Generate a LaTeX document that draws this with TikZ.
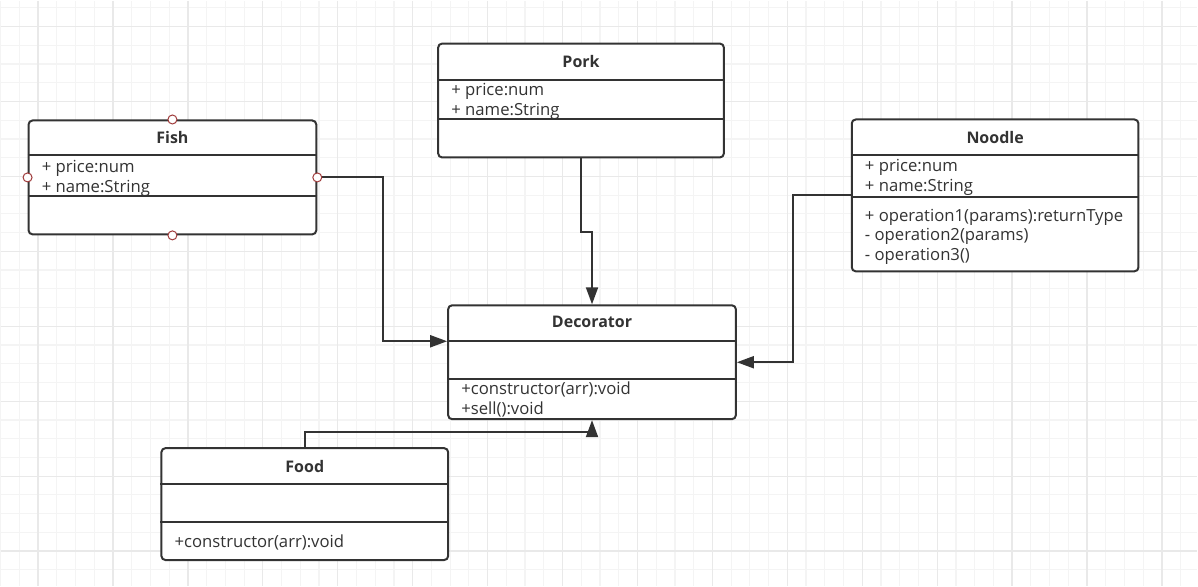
\documentclass[tikz,border=0pt]{standalone}
\usepackage{fontspec}
\setmainfont{Open Sans}
\usetikzlibrary{arrows.meta, positioning, calc}
\definecolor{umlgris}{RGB}{51,51,51}
\definecolor{rejillafina}{RGB}{244,244,244}
\definecolor{rejillagruesa}{RGB}{233,233,233}
\definecolor{asarojo}{RGB}{160,60,60}

\begin{document}
\begin{tikzpicture}[x=1pt, y=-1pt,
                clase/.style={
                    rectangle,
                    rounded corners=4pt,
                    draw=umlgris,
                    line width=2pt,
                    fill=white,
                    anchor=north west,
                    inner sep=0pt
                },
                titulo/.style={font=\fontsize{16}{19}\selectfont\bfseries, text=umlgris},
                entrada/.style={font=\fontsize{16.7}{19}\selectfont, text=umlgris, anchor=west, inner sep=0pt},
                linea/.style={draw=umlgris, line width=2pt},
                flecha/.style={draw=umlgris, line width=2pt, -{Triangle[length=17pt, width=12pt]}},
                asa/.style={circle, draw=asarojo, fill=white, line width=1pt, minimum size=9pt, inner sep=0pt}
            ]
                % fondo y rejilla
                \fill[white] (0,0) rectangle (1198,586);
                \foreach \i in {0,...,63} \draw[rejillafina, line width=1.2pt] (\i*18.75,0) -- (\i*18.75,586);
                \foreach \j in {0,...,30} \draw[rejillafina, line width=1.2pt] (0,7.25+\j*18.75) -- (1198,7.25+\j*18.75);
                \foreach \i in {0,...,15} \draw[rejillagruesa, line width=1.2pt] (37.5+\i*75,0) -- (37.5+\i*75,586);
                \foreach \j in {0,...,7} \draw[rejillagruesa, line width=1.2pt] (0,26+\j*75) -- (1198,26+\j*75);
                \useasboundingbox (0,0) rectangle (1198,586);

                % clases
                \node[clase, minimum width=288pt, minimum height=114pt] (fish) at (27,119) {};
                \node[clase, minimum width=286pt, minimum height=114pt] (pork) at (437,42) {};
                \node[clase, minimum width=287pt, minimum height=152pt] (noodle) at (851,118) {};
                \node[clase, minimum width=288pt, minimum height=114pt] (deco) at (447,304) {};
                \node[clase, minimum width=287pt, minimum height=112pt] (food) at (160,447) {};

                % separadores
                \draw[linea] ([yshift=-36pt]fish.north west) -- ([yshift=-36pt]fish.north east);
                \draw[linea] ([yshift=-77pt]fish.north west) -- ([yshift=-77pt]fish.north east);
                \draw[linea] ([yshift=-37pt]pork.north west) -- ([yshift=-37pt]pork.north east);
                \draw[linea] ([yshift=-77pt]pork.north west) -- ([yshift=-77pt]pork.north east);
                \draw[linea] ([yshift=-37pt]noodle.north west) -- ([yshift=-37pt]noodle.north east);
                \draw[linea] ([yshift=-79pt]noodle.north west) -- ([yshift=-79pt]noodle.north east);
                \draw[linea] ([yshift=-37pt]deco.north west) -- ([yshift=-37pt]deco.north east);
                \draw[linea] ([yshift=-75pt]deco.north west) -- ([yshift=-75pt]deco.north east);
                \draw[linea] ([yshift=-37pt]food.north west) -- ([yshift=-37pt]food.north east);
                \draw[linea] ([yshift=-75pt]food.north west) -- ([yshift=-75pt]food.north east);

                % textos
                \node[titulo] (fishtit) at ($(fish.north)+(0,18)$) {Fish};
                \node[entrada] (fisha) at ($(fish.north west)+(14,48.5)$) {+ price:num};
                \node[entrada] (fishb) at ($(fish.north west)+(14,68.5)$) {+ name:String};

                \node[titulo] (porktit) at ($(pork.north)+(0,19)$) {Pork};
                \node[entrada] (porka) at ($(pork.north west)+(14,48.5)$) {+ price:num};
                \node[entrada] (porkb) at ($(pork.north west)+(14,68.5)$) {+ name:String};

                \node[titulo] (noodletit) at ($(noodle.north)+(0,19)$) {Noodle};
                \node[entrada] (noodlea) at ($(noodle.north west)+(14,48.5)$) {+ price:num};
                \node[entrada] (noodleb) at ($(noodle.north west)+(14,68.5)$) {+ name:String};
                \node[entrada] (noodlec) at ($(noodle.north west)+(14,98.5)$) {+ operation1(params):returnType};
                \node[entrada] (noodled) at ($(noodle.north west)+(14,118.5)$) {- operation2(params)};
                \node[entrada] (noodlee) at ($(noodle.north west)+(14,138.5)$) {- operation3()};

                \node[titulo] (decotit) at ($(deco.north)+(0,18)$) {Decorator};
                \node[entrada] (decoa) at ($(deco.north west)+(14,85.5)$) {+constructor(arr):void};
                \node[entrada] (decob) at ($(deco.north west)+(14,105.5)$) {+sell():void};

                \node[titulo] (foodtit) at ($(food.north)+(0,19)$) {Food};
                \node[entrada] (fooda) at ($(food.north west)+(14,95.5)$) {+constructor(arr):void};

                % relaciones
                \draw[flecha] (fish.east) -- ++(66,0) |- ([yshift=-37pt]deco.north west);
                \draw[flecha] (pork.south) -- ++(0,74) -| (deco.north);
                \draw[flecha] (noodle.west) -- ++(-58,0) |- (deco.east);
                \draw[flecha] (food.north) -- ++(0,-15) -| (deco.south);

                % asas de seleccion
                \node[asa] (fishn) at (fish.north) {};
                \node[asa] (fishs) at (fish.south) {};
                \node[asa] (fishw) at (fish.west) {};
                \node[asa] (fishe) at (fish.east) {};
            \end{tikzpicture}
\end{document}
